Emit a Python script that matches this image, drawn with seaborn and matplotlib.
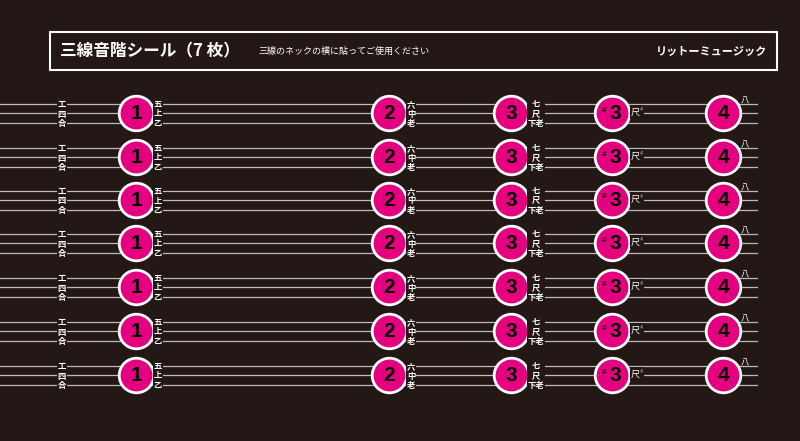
import matplotlib
matplotlib.use("Agg")
import matplotlib.pyplot as plt
import seaborn as sns
import pandas as pd
from matplotlib.patches import Rectangle

title = "三線音階シール（7 枚）"
subtitle = "三線のネックの横に貼ってご使用ください"
brand = "リットーミュージック"
rows = [113, 157, 200, 243, 287, 331, 375]
notes = ["1", "2", "3", "#3", "4"]
note_x = [136, 389, 511, 612, 723]
side_labels = [("工\n四\n合", 62), ("五\n上\n乙", 158), ("六\n中\n老", 411),
               ("七\n尺\n下老", 536), ("尺$^\\sharp$", 637), ("八", 745)]

BG = "#231815"
PINK = "#e4007f"
FONT = "Noto Sans CJK JP"
plt.rcParams["font.family"] = FONT

fig = plt.figure(figsize=(8, 4.41), dpi=100, facecolor=BG)
ax = fig.add_axes([0, 0, 1, 1])
ax.set_facecolor(BG)
ax.set_xlim(0, 800); ax.set_ylim(441, 0); ax.axis("off")

ax.add_patch(Rectangle((50, 32), 727, 38, fill=False, ec="white", lw=1.5))
ax.text(60, 51, title, color="white", fontsize=12, fontweight="bold", va="center")
ax.text(258, 51, subtitle, color="white", fontsize=6.5, va="center")
ax.text(767, 51, brand, color="white", fontsize=8, fontweight="bold", va="center", ha="right", style="italic")

recs = []
for y in rows:
    for dy in (-9.5, 0, 9.5):
        ax.plot([0, 757], [y + dy, y + dy], color="#bbbbbb", lw=0.9, zorder=1)
    for n, x in zip(notes, note_x):
        recs.append({"x": x, "y": y, "n": n})
df = pd.DataFrame(recs)
sns.scatterplot(data=df, x="x", y="y", s=620, color=PINK, edgecolor="white", linewidth=2, ax=ax, zorder=3, legend=False)
NUMF = "Liberation Sans"
for _, r in df.iterrows():
    if r.n.startswith("#"):
        ax.text(r.x - 8, r.y - 3, "#", color="black", fontsize=6, fontweight="bold", ha="center", va="center", zorder=4, family=NUMF)
        ax.text(r.x + 3, r.y + 0.5, r.n[1:], color="black", fontsize=15, fontweight="bold", ha="center", va="center", zorder=4, family=NUMF)
    else:
        ax.text(r.x, r.y + 0.5, r.n, color="black", fontsize=15, fontweight="bold", ha="center", va="center", zorder=4, family=NUMF)
for y in rows:
    for lab, x in side_labels:
        if lab == "八":
            ax.text(x, y - 12, lab, color="white", fontsize=6, ha="center", va="center", zorder=4)
        elif lab.startswith("尺"):
            ax.text(x, y - 1, lab, color="white", fontsize=6.5, ha="center", va="center", zorder=4,
                    bbox=dict(fc=BG, ec="none", pad=0.3))
        else:
            ax.text(x, y + 1, lab, color="white", fontsize=6, fontweight="bold", ha="center", va="center",
                    linespacing=1.05, zorder=4, bbox=dict(fc=BG, ec="none", pad=0.3))
fig.savefig("out.png", dpi=100, facecolor=BG)
